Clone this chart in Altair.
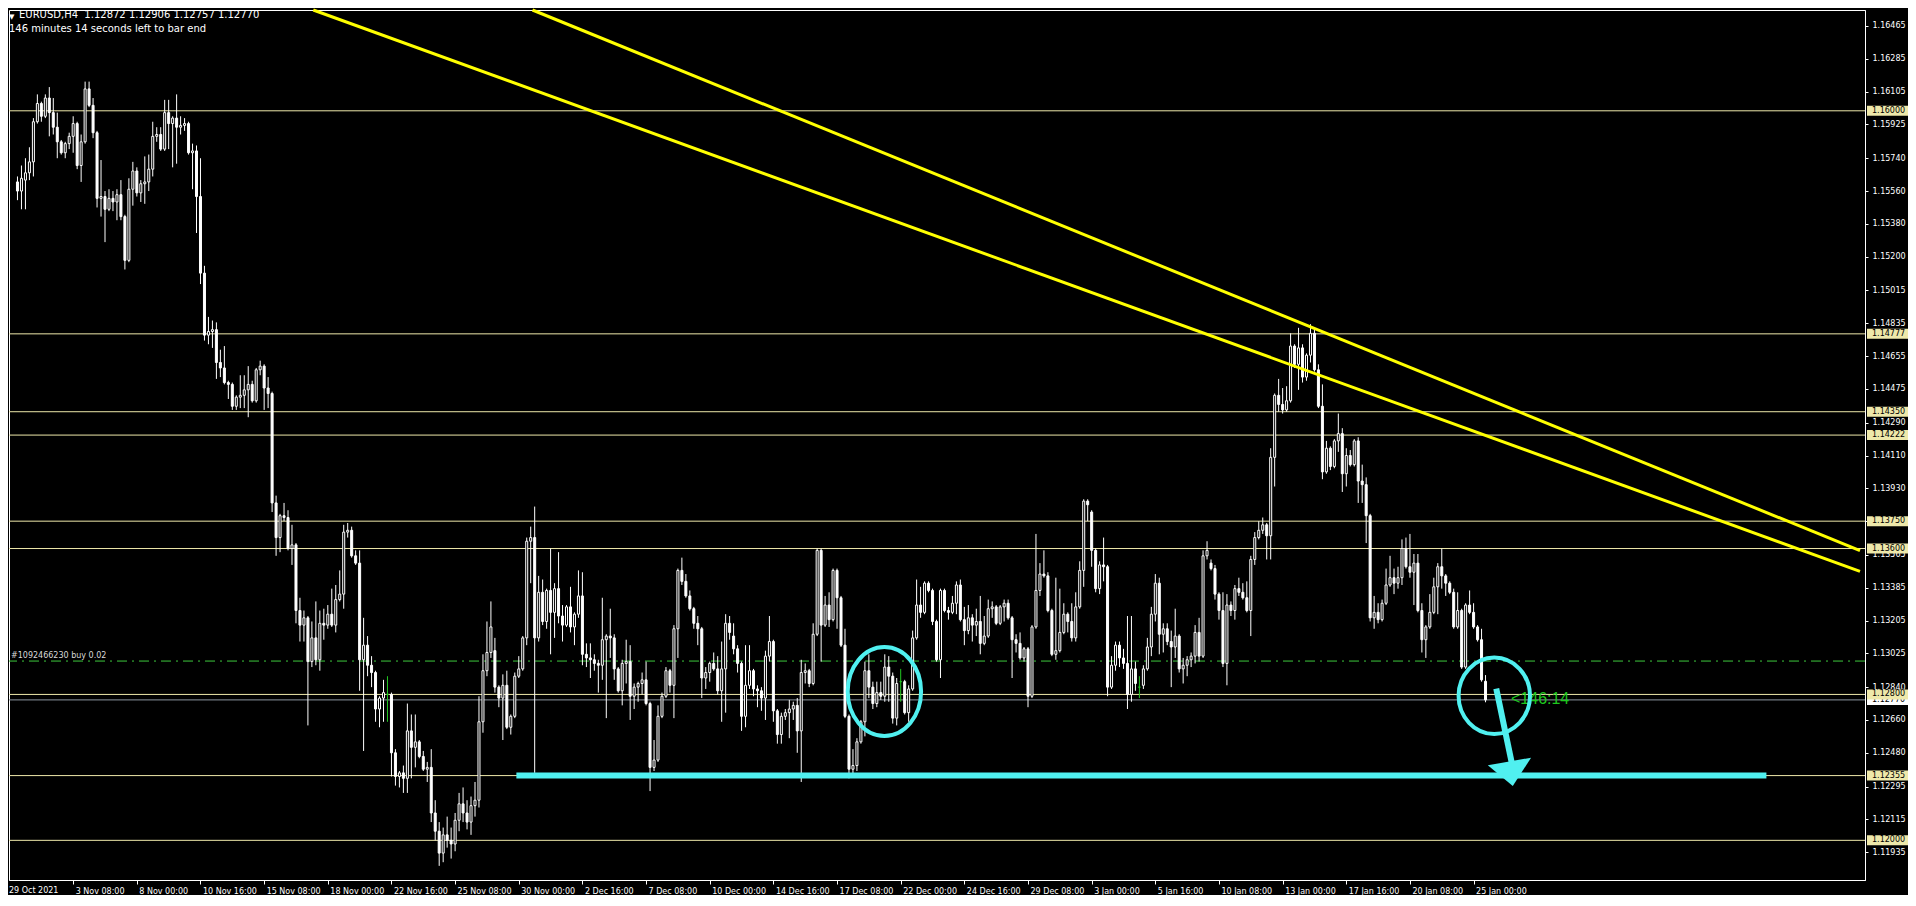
import json
import altair as alt
import pandas as pd

# ---------------- layout ----------------
W, H = 1856, 870
X_DOMAIN = [1.125, 465.125]          # bar index range shown
Y_DOMAIN = [1.117825, 1.165527]      # price range shown
FONT = "Liberation Sans"
AXFONT = "DejaVu Sans"

# ---------------- EURUSD H4 candles (bar 0 = 29 Oct 2021 16:00) ----------------
OPEN = [
 1.1620,1.1538,1.1561,1.1556,1.1562,1.1566,1.1572,1.1594,1.1604,1.1597,
 1.1607,1.1599,1.1591,1.1583,1.1577,1.1582,1.1586,1.1593,1.1570,1.1583,
 1.1612,1.1603,1.1588,1.1552,1.1553,1.1546,1.1552,1.1550,1.1554,1.1542,
 1.1518,1.1557,1.1567,1.1555,1.1560,1.1561,1.1568,1.1586,1.1587,1.1579,
 1.1599,1.1593,1.1596,1.1591,1.1592,1.1593,1.1577,1.1578,1.1553,1.1511,
 1.1477,1.1479,1.1480,1.1462,1.1459,1.1451,1.1450,1.1438,1.1443,1.1444,
 1.1447,1.1450,1.1441,1.1458,1.1460,1.1448,1.1445,1.1385,1.1366,1.1378,
 1.1377,1.1360,1.1362,1.1326,1.1318,1.1322,1.1298,1.1311,1.1299,1.1319,
 1.1318,1.1324,1.1318,1.1332,1.1335,1.1369,1.1370,1.1356,1.1352,1.1299,
 1.1307,1.1296,1.1292,1.1272,1.1278,1.1280,1.1280,1.1248,1.1235,1.1237,
 1.1234,1.1260,1.1251,1.1254,1.1246,1.1239,1.1240,1.1215,1.1205,1.1193,
 1.1203,1.1200,1.1198,1.1211,1.1220,1.1215,1.1210,1.1219,1.1222,1.1265,
 1.1293,1.1303,1.1304,1.1284,1.1278,1.1285,1.1262,1.1268,1.1290,1.1294,
 1.1311,1.1364,1.1366,1.1311,1.1336,1.1320,1.1337,1.1325,1.1338,1.1323,
 1.1318,1.1328,1.1317,1.1324,1.1334,1.1302,1.1300,1.1299,1.1297,1.1296,
 1.1310,1.1312,1.1311,1.1294,1.1282,1.1297,1.1298,1.1279,1.1284,1.1286,
 1.1288,1.1275,1.1240,1.1244,1.1268,1.1279,1.1293,1.1285,1.1316,1.1348,
 1.1342,1.1334,1.1327,1.1319,1.1316,1.1289,1.1292,1.1297,1.1294,1.1282,
 1.1294,1.1319,1.1312,1.1305,1.1297,1.1268,1.1285,1.1293,1.1283,1.1282,
 1.1278,1.1301,1.1309,1.1271,1.1258,1.1268,1.1270,1.1272,1.1274,1.1260,
 1.1292,1.1293,1.1286,1.1313,1.1359,1.1318,1.1329,1.1321,1.1348,1.1333,
 1.1307,1.1268,1.1239,1.1241,1.1254,1.1265,1.1293,1.1284,1.1275,1.1281,
 1.1279,1.1295,1.1290,1.1267,1.1287,1.1287,1.1270,1.1283,1.1311,1.1329,
 1.1325,1.1341,1.1337,1.1320,1.1299,1.1337,1.1326,1.1325,1.1330,1.1340,
 1.1321,1.1315,1.1322,1.1318,1.1320,1.1308,1.1312,1.1327,1.1328,1.1319,
 1.1328,1.1330,1.1322,1.1310,1.1308,1.1300,1.1305,1.1279,1.1317,1.1337,
 1.1346,1.1345,1.1326,1.1302,1.1304,1.1314,1.1324,1.1320,1.1311,1.1328,
 1.1348,1.1386,1.1380,1.1359,1.1338,1.1351,1.1350,1.1284,1.1296,1.1307,
 1.1300,1.1297,1.1280,1.1294,1.1284,1.1285,1.1294,1.1306,1.1324,1.1341,
 1.1313,1.1316,1.1309,1.1306,1.1312,1.1294,1.1296,1.1299,1.1301,1.1314,
 1.1301,1.1356,1.1352,1.1349,1.1335,1.1326,1.1297,1.1329,1.1326,1.1338,
 1.1336,1.1333,1.1326,1.1354,1.1366,1.1370,1.1373,1.1367,1.1410,1.1444,
 1.1439,1.1436,1.1441,1.1471,1.1461,1.1470,1.1454,1.1466,1.1478,1.1458,
 1.1438,1.1402,1.1415,1.1405,1.1419,1.1423,1.1401,1.1411,1.1406,1.1419,
 1.1397,1.1395,1.1378,1.1322,1.1325,1.1321,1.1330,1.1340,1.1344,1.1341,
 1.1344,1.1360,1.1350,1.1347,1.1352,1.1326,1.1310,1.1317,1.1325,1.1339,
 1.1350,1.1345,1.1341,1.1336,1.1317,1.1326,1.1295,1.1329,1.1325,1.1317,
 1.1310,1.12872]

HIGH = [
 1.1627,1.1564,1.1564,1.1570,1.1574,1.1580,1.1596,1.1609,1.1605,1.1609,
 1.1613,1.1607,1.1599,1.1584,1.1583,1.1588,1.1597,1.1594,1.1587,1.1616,
 1.1616,1.1607,1.1589,1.1573,1.1556,1.1557,1.1556,1.1557,1.1562,1.1543,
 1.1563,1.1572,1.1569,1.1562,1.1575,1.1576,1.1594,1.1591,1.1591,1.1606,
 1.1606,1.1597,1.1609,1.1597,1.1596,1.1594,1.1582,1.1581,1.1574,1.1515,
 1.1487,1.1485,1.1484,1.1469,1.1471,1.1452,1.1451,1.1444,1.1455,1.1455,
 1.1460,1.1452,1.1459,1.1463,1.1461,1.1454,1.1446,1.1389,1.1379,1.1385,
 1.1381,1.1373,1.1363,1.1333,1.1326,1.1323,1.1320,1.1331,1.1326,1.1327,
 1.1329,1.1338,1.1340,1.1348,1.1373,1.1374,1.1372,1.1359,1.1359,1.1322,
 1.1312,1.1301,1.1293,1.1279,1.1288,1.1290,1.1281,1.1250,1.1238,1.1241,
 1.1275,1.1269,1.1269,1.1255,1.1249,1.1243,1.1250,1.1222,1.1210,1.1207,
 1.1213,1.1207,1.1215,1.1226,1.1229,1.1222,1.1224,1.1232,1.1279,1.1302,
 1.1320,1.1331,1.1311,1.1285,1.1291,1.1293,1.1269,1.1292,1.1301,1.1312,
 1.1366,1.1372,1.1383,1.1345,1.1343,1.1338,1.1360,1.1341,1.1358,1.1329,
 1.1329,1.1339,1.1325,1.1348,1.1347,1.1308,1.1308,1.1302,1.1299,1.1333,
 1.1313,1.1327,1.1313,1.1295,1.1299,1.1310,1.1307,1.1286,1.1287,1.1292,
 1.1298,1.1276,1.1255,1.1274,1.1281,1.1295,1.1294,1.1318,1.1349,1.1355,
 1.1346,1.1337,1.1328,1.1323,1.1317,1.1295,1.1298,1.1303,1.1301,1.1309,
 1.1324,1.1323,1.1319,1.1307,1.1298,1.1307,1.1307,1.1294,1.1285,1.1284,
 1.1304,1.1323,1.1310,1.1272,1.1270,1.1272,1.1277,1.1276,1.1278,1.1299,
 1.1297,1.1294,1.1319,1.1360,1.1360,1.1334,1.1336,1.1349,1.1349,1.1334,
 1.1316,1.1269,1.1250,1.1256,1.1266,1.1298,1.1302,1.1287,1.1287,1.1287,
 1.1302,1.1301,1.1292,1.1289,1.1294,1.1288,1.1285,1.1315,1.1343,1.1339,
 1.1342,1.1342,1.1338,1.1321,1.1338,1.1338,1.1328,1.1334,1.1342,1.1343,
 1.1328,1.1329,1.1324,1.1327,1.1334,1.1323,1.1332,1.1331,1.1329,1.1329,
 1.1332,1.1332,1.1323,1.1313,1.1314,1.1306,1.1306,1.1318,1.1368,1.1352,
 1.1359,1.1347,1.1327,1.1344,1.1338,1.1330,1.1325,1.1330,1.1336,1.1353,
 1.1387,1.1387,1.1381,1.1360,1.1353,1.1366,1.1351,1.1301,1.1309,1.1309,
 1.1305,1.1323,1.1323,1.1298,1.1290,1.1296,1.1311,1.1328,1.1346,1.1344,
 1.1319,1.1319,1.1315,1.1327,1.1313,1.1300,1.1301,1.1303,1.1318,1.1322,
 1.1359,1.1364,1.1354,1.1351,1.1336,1.1336,1.1335,1.1331,1.1340,1.1344,
 1.1341,1.1342,1.1356,1.1369,1.1375,1.1377,1.1374,1.1415,1.1445,1.1453,
 1.1448,1.1449,1.1478,1.1472,1.1481,1.1472,1.1467,1.1483,1.1480,1.1461,
 1.1450,1.1419,1.1416,1.1420,1.1434,1.1426,1.1415,1.1414,1.1420,1.1421,
 1.1406,1.1399,1.1379,1.1334,1.1330,1.1332,1.1349,1.1356,1.1349,1.1350,
 1.1365,1.1366,1.1368,1.1357,1.1357,1.1330,1.1318,1.1335,1.1344,1.1352,
 1.1360,1.1346,1.1342,1.1338,1.1336,1.1327,1.1330,1.1337,1.1330,1.1318,
 1.1316,1.12906]

LOW = [
 1.1535,1.1536,1.1551,1.1546,1.1546,1.1562,1.1564,1.1593,1.1594,1.1596,
 1.1586,1.1587,1.1574,1.1576,1.1574,1.1579,1.1577,1.1568,1.1561,1.1582,
 1.1602,1.1585,1.1547,1.1542,1.1528,1.1545,1.1545,1.1540,1.1540,1.1513,
 1.1517,1.1548,1.1553,1.1550,1.1549,1.1556,1.1564,1.1583,1.1578,1.1578,
 1.1579,1.1569,1.1571,1.1587,1.1589,1.1576,1.1557,1.1533,1.1505,1.1474,
 1.1472,1.1470,1.1453,1.1454,1.1450,1.1442,1.1436,1.1436,1.1437,1.1437,
 1.1432,1.1440,1.1440,1.1455,1.1436,1.1437,1.1380,1.1356,1.1358,1.1375,
 1.1359,1.1351,1.1319,1.1309,1.1309,1.1263,1.1295,1.1296,1.1293,1.1310,
 1.1316,1.1317,1.1314,1.1331,1.1327,1.1366,1.1355,1.1351,1.1282,1.1249,
 1.1290,1.1284,1.1265,1.1262,1.1265,1.1265,1.1235,1.1230,1.1229,1.1226,
 1.1226,1.1234,1.1240,1.1245,1.1238,1.1232,1.1210,1.1200,1.1186,1.1188,
 1.1196,1.1190,1.1194,1.1205,1.1210,1.1206,1.1203,1.1213,1.1218,1.1259,
 1.1290,1.1300,1.1281,1.1273,1.1255,1.1261,1.1258,1.1267,1.1289,1.1293,
 1.1307,1.1341,1.1237,1.1309,1.1318,1.1316,1.1302,1.1311,1.1319,1.1309,
 1.1317,1.1314,1.1307,1.1322,1.1296,1.1295,1.1289,1.1293,1.1281,1.1288,
 1.1267,1.1300,1.1288,1.1281,1.1274,1.1286,1.1266,1.1272,1.1276,1.1280,
 1.1274,1.1227,1.1238,1.1243,1.1267,1.1278,1.1281,1.1267,1.1300,1.1340,
 1.1333,1.1326,1.1316,1.1307,1.1278,1.1283,1.1287,1.1293,1.1280,1.1265,
 1.1270,1.1310,1.1302,1.1292,1.1260,1.1262,1.1283,1.1279,1.1273,1.1271,
 1.1266,1.1298,1.1265,1.1253,1.1253,1.1266,1.1256,1.1266,1.1248,1.1232,
 1.1286,1.1284,1.1285,1.1312,1.1298,1.1317,1.1317,1.1320,1.1316,1.1306,
 1.1267,1.1234,1.1235,1.1238,1.1253,1.1257,1.1278,1.1272,1.1273,1.1277,
 1.1276,1.1276,1.1264,1.1263,1.1276,1.1269,1.1265,1.1282,1.1310,1.1322,
 1.1324,1.1336,1.1318,1.1298,1.1289,1.1325,1.1321,1.1324,1.1324,1.1320,
 1.1307,1.1313,1.1309,1.1312,1.1302,1.1307,1.1311,1.1322,1.1318,1.1318,
 1.1320,1.1321,1.1289,1.1303,1.1299,1.1298,1.1273,1.1278,1.1316,1.1334,
 1.1344,1.1325,1.1301,1.1299,1.1303,1.1313,1.1314,1.1309,1.1309,1.1327,
 1.1339,1.1375,1.1350,1.1336,1.1335,1.1342,1.1279,1.1283,1.1293,1.1295,
 1.1294,1.1272,1.1276,1.1282,1.1278,1.1283,1.1293,1.1301,1.1320,1.1302,
 1.1303,1.1307,1.1284,1.1300,1.1292,1.1286,1.1290,1.1295,1.1297,1.1298,
 1.1300,1.1354,1.1348,1.1332,1.1321,1.1295,1.1285,1.1323,1.1321,1.1334,
 1.1332,1.1325,1.1312,1.1351,1.1365,1.1368,1.1354,1.1354,1.1394,1.1435,
 1.1434,1.1435,1.1440,1.1459,1.1447,1.1451,1.1452,1.1462,1.1457,1.1437,
 1.1398,1.1401,1.1403,1.1404,1.1413,1.1391,1.1394,1.1405,1.1405,1.1385,
 1.1385,1.1363,1.1320,1.1316,1.1319,1.1320,1.1329,1.1339,1.1335,1.1338,
 1.1340,1.1349,1.1344,1.1329,1.1325,1.1303,1.1300,1.1316,1.1324,1.1324,
 1.1338,1.1334,1.1335,1.1316,1.1316,1.1294,1.1294,1.1324,1.1316,1.1309,
 1.1287,1.12757]

CLOSE = [
 1.1538,1.1559,1.1556,1.1563,1.1566,1.1572,1.1594,1.1604,1.1597,1.1607,
 1.1599,1.1591,1.1583,1.1577,1.1582,1.1586,1.1593,1.1570,1.1583,1.1612,
 1.1603,1.1588,1.1552,1.1553,1.1546,1.1552,1.1550,1.1554,1.1542,1.1518,
 1.1557,1.1567,1.1555,1.1560,1.1561,1.1568,1.1586,1.1587,1.1579,1.1599,
 1.1593,1.1596,1.1591,1.1592,1.1593,1.1577,1.1578,1.1553,1.1511,1.1477,
 1.1479,1.1480,1.1462,1.1459,1.1451,1.1450,1.1438,1.1443,1.1444,1.1447,
 1.1450,1.1441,1.1458,1.1460,1.1448,1.1445,1.1385,1.1366,1.1378,1.1377,
 1.1360,1.1362,1.1326,1.1318,1.1322,1.1298,1.1311,1.1299,1.1319,1.1318,
 1.1324,1.1318,1.1332,1.1335,1.1369,1.1370,1.1356,1.1352,1.1299,1.1307,
 1.1296,1.1292,1.1272,1.1278,1.1281,1.1280,1.1248,1.1235,1.1237,1.1234,
 1.1260,1.1251,1.1254,1.1246,1.1239,1.1240,1.1215,1.1205,1.1193,1.1203,
 1.1200,1.1198,1.1211,1.1220,1.1215,1.1210,1.1219,1.1222,1.1265,1.1293,
 1.1303,1.1317,1.1284,1.1278,1.1285,1.1262,1.1268,1.1290,1.1294,1.1311,
 1.1364,1.1366,1.1311,1.1336,1.1320,1.1337,1.1325,1.1338,1.1323,1.1318,
 1.1328,1.1317,1.1324,1.1334,1.1302,1.1300,1.1299,1.1297,1.1296,1.1310,
 1.1312,1.1311,1.1294,1.1282,1.1297,1.1298,1.1279,1.1284,1.1286,1.1288,
 1.1275,1.1240,1.1244,1.1268,1.1279,1.1293,1.1285,1.1316,1.1348,1.1342,
 1.1334,1.1327,1.1319,1.1316,1.1289,1.1292,1.1297,1.1294,1.1282,1.1294,
 1.1319,1.1314,1.1305,1.1297,1.1268,1.1285,1.1293,1.1283,1.1282,1.1278,
 1.1301,1.1309,1.1271,1.1258,1.1268,1.1270,1.1272,1.1274,1.1260,1.1292,
 1.1293,1.1286,1.1313,1.1359,1.1318,1.1329,1.1321,1.1348,1.1333,1.1307,
 1.1268,1.1239,1.1241,1.1254,1.1265,1.1293,1.1284,1.1275,1.1281,1.1279,
 1.1295,1.1290,1.1267,1.1286,1.1287,1.1270,1.1283,1.1311,1.1329,1.1325,
 1.1341,1.1337,1.1320,1.1299,1.1337,1.1326,1.1325,1.1330,1.1340,1.1321,
 1.1315,1.1322,1.1318,1.1320,1.1308,1.1312,1.1327,1.1328,1.1319,1.1328,
 1.1330,1.1322,1.1310,1.1308,1.1300,1.1305,1.1279,1.1317,1.1337,1.1346,
 1.1345,1.1326,1.1302,1.1304,1.1314,1.1324,1.1320,1.1311,1.1328,1.1348,
 1.1386,1.1384,1.1359,1.1338,1.1351,1.1350,1.1284,1.1296,1.1307,1.1300,
 1.1297,1.1280,1.1294,1.1286,1.1284,1.1294,1.1306,1.1324,1.1341,1.1313,
 1.1316,1.1309,1.1306,1.1312,1.1294,1.1296,1.1299,1.1301,1.1314,1.1301,
 1.1356,1.1359,1.1349,1.1335,1.1326,1.1297,1.1329,1.1326,1.1338,1.1336,
 1.1333,1.1326,1.1354,1.1366,1.1370,1.1373,1.1367,1.1410,1.1444,1.1439,
 1.1436,1.1441,1.1471,1.1461,1.1470,1.1454,1.1466,1.1478,1.1458,1.1438,
 1.1402,1.1415,1.1405,1.1419,1.1423,1.1401,1.1411,1.1406,1.1419,1.1397,
 1.1395,1.1378,1.1322,1.1325,1.1321,1.1330,1.1340,1.1344,1.1341,1.1344,
 1.1360,1.1350,1.1347,1.1352,1.1326,1.1310,1.1317,1.1325,1.1339,1.1350,
 1.1345,1.1341,1.1336,1.1317,1.1326,1.1295,1.1329,1.1325,1.1317,1.1310,
 1.1288,1.12770]

DOJI_BARS = [95, 224, 284]
FIRST_VISIBLE_BAR = 2   # bars 0-1 sit left of the visible window

# ---------------- objects / annotations ----------------
LEVELS = [1.16000, 1.14777, 1.14350, 1.14222, 1.13750, 1.13600, 1.12800, 1.12355, 1.12000]
BID_PRICE = 1.12770
ORDER_PRICE = 1.12983
ORDER_LABEL = "#1092466230 buy 0.02"

Y_TICKS = [1.16465, 1.16285, 1.16105, 1.15925, 1.15740, 1.15560, 1.15380, 1.15200,
           1.15015, 1.14835, 1.14655, 1.14475, 1.14290, 1.14110, 1.13930, 1.13750,
           1.13565, 1.13385, 1.13205, 1.13025, 1.12840, 1.12660, 1.12480, 1.12295,
           1.12115, 1.11935, 1.11755]
X_LABELS = ["29 Oct 2021", "3 Nov 08:00", "8 Nov 00:00", "10 Nov 16:00", "15 Nov 08:00",
            "18 Nov 00:00", "22 Nov 16:00", "25 Nov 08:00", "30 Nov 00:00", "2 Dec 16:00",
            "7 Dec 08:00", "10 Dec 00:00", "14 Dec 16:00", "17 Dec 08:00", "22 Dec 00:00",
            "24 Dec 16:00", "29 Dec 08:00", "3 Jan 00:00", "5 Jan 16:00", "10 Jan 08:00",
            "13 Jan 00:00", "17 Jan 16:00", "20 Jan 08:00", "25 Jan 00:00"]
X_TICK_BARS = [16 * k for k in range(1, len(X_LABELS))]

# trend lines: (bar, price) anchors where they enter and leave the window
TREND_BAR1 = [76.35, 131.45]
TREND_PRICE1 = [1.165527, 1.165527]
TREND_BAR2 = [465.125, 465.125]
TREND_PRICE2 = [1.134747, 1.135885]

SUPPORT_BAR1, SUPPORT_BAR2, SUPPORT_PRICE = 127.4, 441.6, 1.12355
CIRCLE_BARS = [219.9, 373.2]
CIRCLE_PRICES = [1.12816, 1.127924]
CIRCLE_RX = [36.7, 35.7]
CIRCLE_RY = [44.4, 38.2]
ARROW_BAR1, ARROW_PRICE1 = 373.7, 1.128314
ARROW_BAR2, ARROW_PRICE2 = 377.9, 1.123928
ARROW_HEAD_BAR, ARROW_HEAD_PRICE = 377.3, 1.123872
COUNTDOWN_BAR, COUNTDOWN_PRICE, COUNTDOWN_TEXT = 377.4, 1.12775, "<146:14"

HEADER1 = "EURUSD,H4 \u00a01.12872 1.12906 1.12757 1.12770"
HEADER2 = "146 minutes 14 seconds left to bar end"

CYAN = "#50F0F0"
LEVEL_COL = "#EEE8AA"
GREEN = "#22C822"

# ---------------- tables ----------------
rows = []
for i in range(len(CLOSE)):
    o, h, l, c = OPEN[i], HIGH[i], LOW[i], CLOSE[i]
    if i in DOJI_BARS:
        kind = "doji"
    elif c > o:
        kind = "bull"
    else:
        kind = "bear"
    rows.append({"bar": i, "open": o, "close": c,
                 "high": max(h, o, c), "low": min(l, o, c), "kind": kind})
df = pd.DataFrame(rows)

XS = alt.Scale(domain=X_DOMAIN, nice=False, zero=False)
YS = alt.Scale(domain=Y_DOMAIN, nice=False, zero=False)

x_axis = alt.Axis(values=X_TICK_BARS, labelExpr=f"{json.dumps(X_LABELS)}[round(datum.value / 16)]",
                  orient="bottom", title=None, grid=False, labelAlign="left", labelOffset=2,
                  labelColor="#FFFFFF", labelFont=AXFONT, labelFontSize=8, labelPadding=3,
                  tickColor="#FFFFFF", tickSize=4, domainColor="#FFFFFF",
                  labelOverlap=False, labelFlush=False, labelBound=False)
y_axis = alt.Axis(values=Y_TICKS, format=".5f", orient="right", title=None, grid=False,
                  labelColor="#FFFFFF", labelFont=AXFONT, labelFontSize=8, labelPadding=4,
                  labelBaseline="middle", tickColor="#FFFFFF", tickSize=3,
                  domainColor="#FFFFFF", labelOverlap=False, labelFlush=False, labelBound=False)


def X(f):
    return alt.X(f, type="quantitative", scale=XS, axis=x_axis)


def Y(f):
    return alt.Y(f, type="quantitative", scale=YS, axis=y_axis)


def ellipse_path(rx, ry):
    a = rx / ry
    k = 0.5523
    return (f"M {a:.4f} 0 C {a:.4f} {k} {a*k:.4f} 1 0 1 "
            f"C {-a*k:.4f} 1 {-a:.4f} {k} {-a:.4f} 0 "
            f"C {-a:.4f} {-k} {-a*k:.4f} -1 0 -1 "
            f"C {a*k:.4f} -1 {a:.4f} {-k} {a:.4f} 0 Z")


layers = []

# horizontal price levels
lev_df = pd.DataFrame({"price": LEVELS})
layers.append(alt.Chart(lev_df).mark_rule(color=LEVEL_COL, strokeWidth=1).encode(y=Y("price")))

# bid line
layers.append(alt.Chart(pd.DataFrame({"price": [BID_PRICE]}))
              .mark_rule(color="#8C96A0", strokeWidth=1).encode(y=Y("price")))

# order line + label
order_df = pd.DataFrame({"price": [ORDER_PRICE], "label": [ORDER_LABEL]})
layers.append(alt.Chart(order_df).mark_rule(color="#3CC83C", strokeWidth=1, strokeDash=[10, 5, 2, 5])
              .encode(y=Y("price")))
layers.append(alt.Chart(order_df).mark_text(align="left", baseline="alphabetic", dy=-3,
                                            font=AXFONT, fontSize=8, color="#D8D8D8")
              .encode(x=alt.value(2), y=Y("price"), text="label:N"))

# wicks
vis = f"datum.bar >= {FIRST_VISIBLE_BAR}"
layers.append(alt.Chart(df).transform_filter(vis).transform_filter("datum.kind != 'doji'")
              .mark_rule(color="#FFFFFF", strokeWidth=1)
              .encode(x=X("bar"), y=Y("low"), y2="high"))
layers.append(alt.Chart(df).transform_filter(vis).transform_filter("datum.kind == 'doji'")
              .mark_rule(color=GREEN, strokeWidth=1)
              .encode(x=X("bar"), y=Y("low"), y2="high"))
# bodies
for kind, fill, stroke in [("bear", "#FFFFFF", "#FFFFFF"), ("bull", "#000000", "#FFFFFF"),
                           ("doji", GREEN, GREEN)]:
    layers.append(alt.Chart(df).transform_filter(vis).transform_filter(f"datum.kind == '{kind}'")
                  .mark_bar(size=2, fill=fill, stroke=stroke, strokeWidth=1,
                            orient="vertical", opacity=1)
                  .encode(x=X("bar"), y=Y("open"), y2="close"))

# trend lines
trend_df = pd.DataFrame({"b1": TREND_BAR1, "p1": TREND_PRICE1, "b2": TREND_BAR2, "p2": TREND_PRICE2})
layers.append(alt.Chart(trend_df).mark_rule(color="#FFFF00", strokeWidth=3)
              .encode(x=X("b1"), y=Y("p1"), x2="b2", y2="p2"))

# countdown text
cd_df = pd.DataFrame({"bar": [COUNTDOWN_BAR], "price": [COUNTDOWN_PRICE], "label": [COUNTDOWN_TEXT]})
layers.append(alt.Chart(cd_df).mark_text(align="left", baseline="middle", font=FONT,
                                         fontSize=16, color="#1EC81E")
              .encode(x=X("bar"), y=Y("price"), text="label:N"))

# cyan annotations
sup_df = pd.DataFrame({"b1": [SUPPORT_BAR1], "b2": [SUPPORT_BAR2], "price": [SUPPORT_PRICE]})
layers.append(alt.Chart(sup_df).mark_rule(color=CYAN, strokeWidth=6)
              .encode(x=X("b1"), x2="b2", y=Y("price")))
for b, p, rx, ry in zip(CIRCLE_BARS, CIRCLE_PRICES, CIRCLE_RX, CIRCLE_RY):
    cdf = pd.DataFrame({"bar": [b], "price": [p]})
    layers.append(alt.Chart(cdf).mark_point(shape=ellipse_path(rx, ry), size=(2 * ry) ** 2,
                                            filled=False, stroke=CYAN, strokeWidth=4, opacity=1)
                  .encode(x=X("bar"), y=Y("price")))
arrow_df = pd.DataFrame({"b1": [ARROW_BAR1], "p1": [ARROW_PRICE1], "b2": [ARROW_BAR2], "p2": [ARROW_PRICE2]})
layers.append(alt.Chart(arrow_df).mark_rule(color=CYAN, strokeWidth=6)
              .encode(x=X("b1"), y=Y("p1"), x2="b2", y2="p2"))
head_df = pd.DataFrame({"bar": [ARROW_HEAD_BAR], "price": [ARROW_HEAD_PRICE]})
layers.append(alt.Chart(head_df).mark_point(shape="M -0.912 -0.176 L 0.82 -0.48 L 0.088 0.652 Z",
                                            size=2500, filled=True, fill=CYAN, strokeWidth=0, opacity=1)
              .encode(x=X("bar"), y=Y("price")))

# price-axis labels for objects
bid_df = pd.DataFrame({"price": [BID_PRICE], "label": [f"{BID_PRICE:.5f}"]})
layers.append(alt.Chart(bid_df).mark_tick(orient="horizontal", thickness=10, size=41,
                                          color="#FFFFFF", opacity=1)
              .encode(x=alt.value(W + 22.5), y=Y("price")))
layers.append(alt.Chart(bid_df).mark_text(align="left", baseline="middle", font=AXFONT,
                                          fontSize=8, color="#000000")
              .encode(x=alt.value(W + 7), y=Y("price"), text="label:N"))
lvl_lab = pd.DataFrame({"price": LEVELS, "label": [f"{v:.5f}" for v in LEVELS]})
layers.append(alt.Chart(lvl_lab).mark_tick(orient="horizontal", thickness=10, size=41,
                                           color=LEVEL_COL, opacity=1)
              .encode(x=alt.value(W + 22.5), y=Y("price")))
layers.append(alt.Chart(lvl_lab).mark_text(align="left", baseline="middle", font=AXFONT,
                                           fontSize=8, color="#000000")
              .encode(x=alt.value(W + 7), y=Y("price"), text="label:N"))

# header text
hdr = pd.DataFrame({"t": [0]})
layers.append(alt.Chart(hdr).mark_text(align="left", baseline="top", font="DejaVu Sans",
                                       fontSize=7, color="#FFFFFF")
              .encode(x=alt.value(0), y=alt.value(3), text=alt.value("\u25bc")))
layers.append(alt.Chart(hdr).mark_text(align="left", baseline="top", font=AXFONT,
                                       fontSize=10, color="#FFFFFF")
              .encode(x=alt.value(10), y=alt.value(0), text=alt.value(HEADER1)))
layers.append(alt.Chart(hdr).mark_text(align="left", baseline="top", font=AXFONT,
                                       fontSize=10, color="#FFFFFF")
              .encode(x=alt.value(0), y=alt.value(14), text=alt.value(HEADER2)))
# first date label (its bar lies just left of the visible window)
layers.append(alt.Chart(hdr).mark_text(align="left", baseline="top", font=AXFONT,
                                       fontSize=8, color="#FFFFFF")
              .encode(x=alt.value(0), y=alt.value(H + 7), text=alt.value(X_LABELS[0])))

chart = (alt.layer(*layers)
         .properties(width=W, height=H, padding=0, background="#000000")
         .configure_view(stroke="#FFFFFF", strokeWidth=1, fill="#000000"))

chart.save("out.html", embed_options={"renderer": "svg", "actions": False})
